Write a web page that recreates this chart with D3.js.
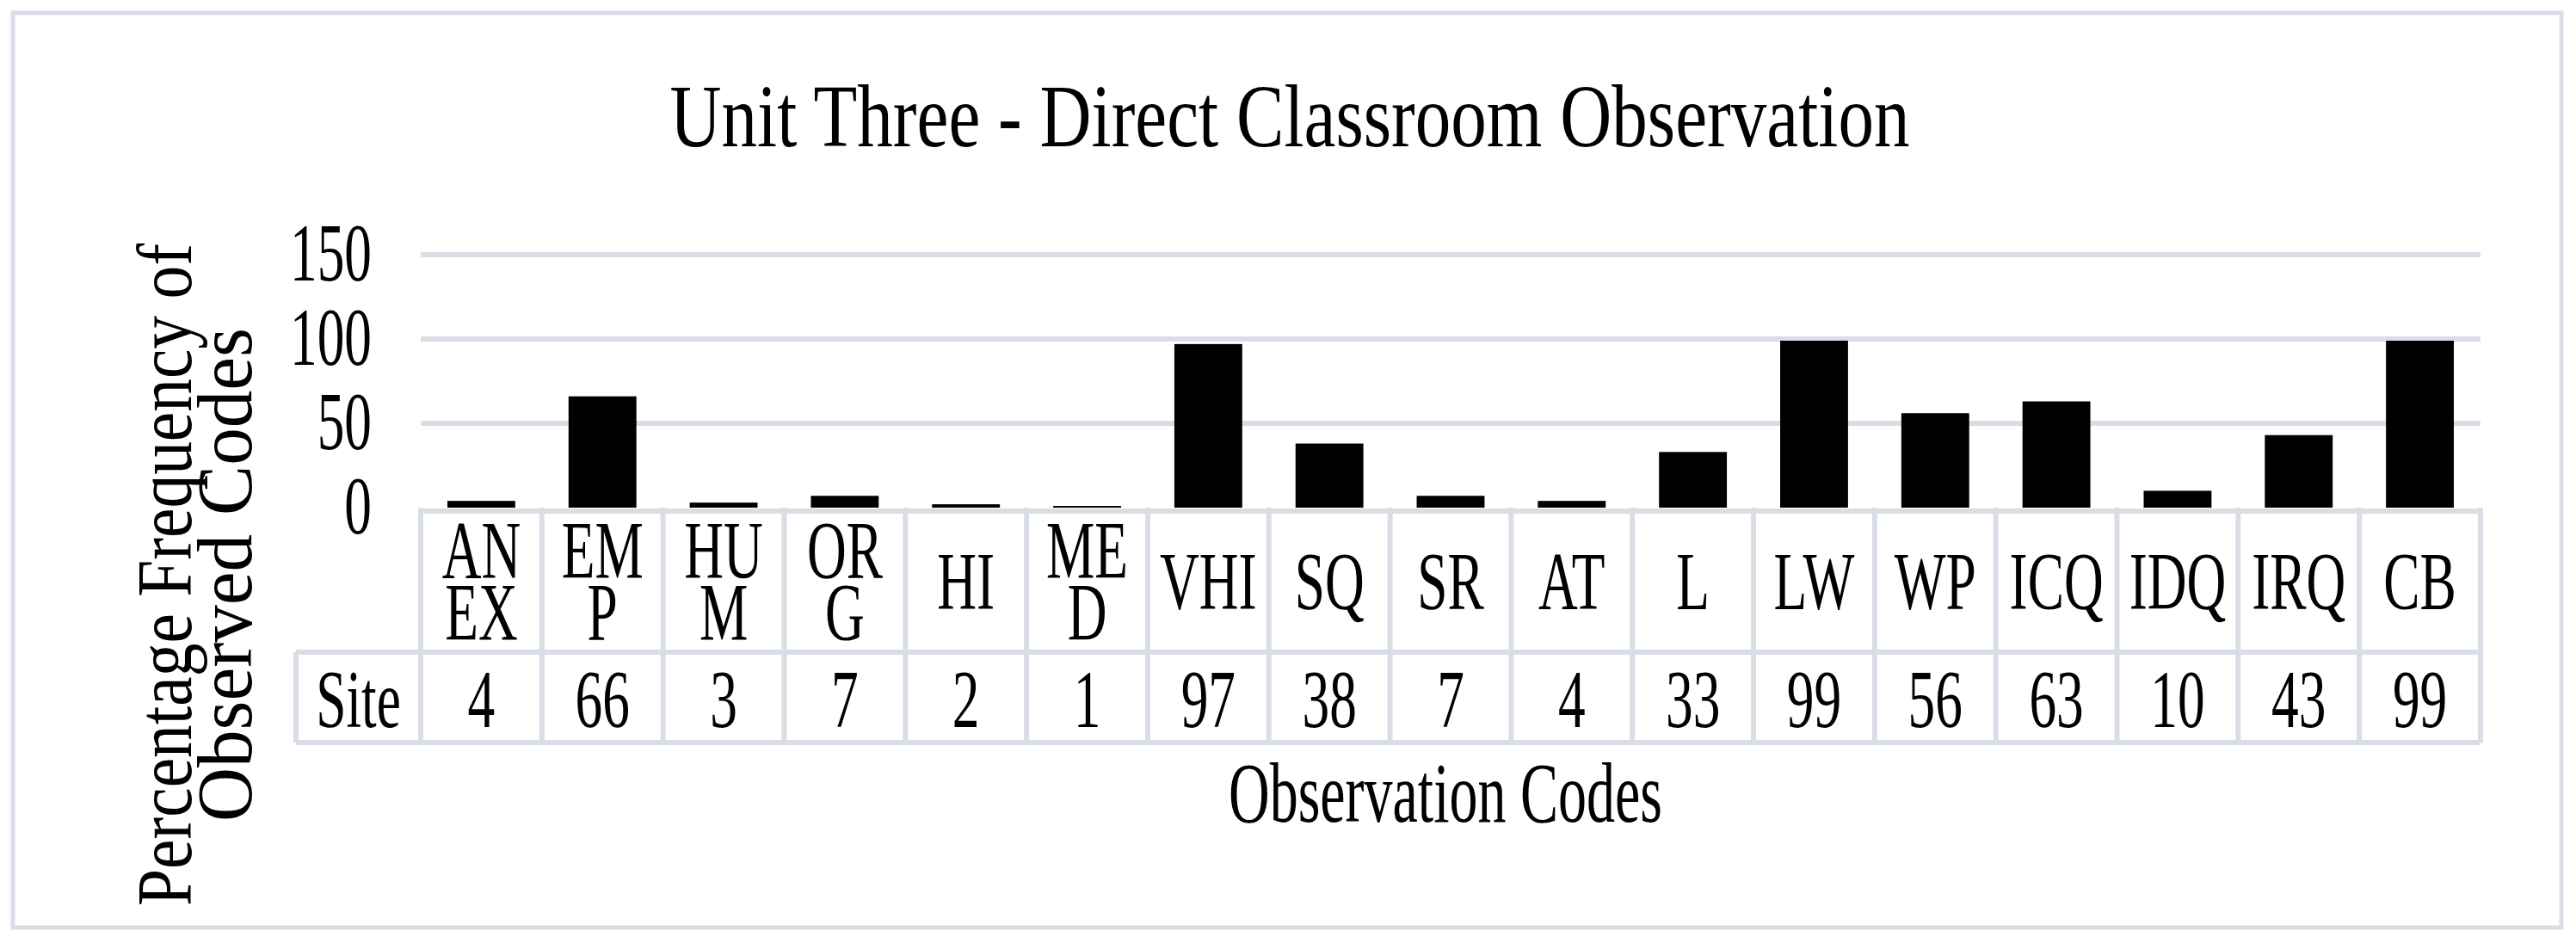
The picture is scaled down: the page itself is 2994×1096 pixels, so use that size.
<!DOCTYPE html>
<html><head><meta charset="utf-8">
<script src="https://cdn.jsdelivr.net/npm/d3@7"></script>
<style>body{margin:0;background:#fff}text{font-family:"Liberation Serif","Times New Roman",serif;fill:#000}</style>
</head><body><svg id="chart" width="2994" height="1096"></svg>
<script>
// data
const codes = ["ANEX","EMP","HUM","ORG","HI","MED","VHI","SQ","SR","AT","L","LW","WP","ICQ","IDQ","IRQ","CB"]
const codeLines = [["AN","EX"],["EM","P"],["HU","M"],["OR","G"],["HI"],["ME","D"],["VHI"],["SQ"],["SR"],["AT"],["L"],["LW"],["WP"],["ICQ"],["IDQ"],["IRQ"],["CB"]]
const siteValues = [4,66,3,7,2,1,97,38,7,4,33,99,56,63,10,43,99]
const yTicks = [0,50,100,150]

const svg = d3.select('#chart')
const grid = "#d9dee6"
const sx = 0.66 // text in the picture is squeezed sideways

// outer frame
svg.append('rect').attr('x',15).attr('y',15).attr('width',2962).attr('height',1063)
  .attr('fill','none').attr('stroke',grid).attr('stroke-width',5)

const plotLeft = 489, plotRight = 2883, plotTop = 296, zero = 590
const x = d3.scaleBand().domain(codes).range([plotLeft,plotRight])
const y = d3.scaleLinear().domain([0,150]).range([zero,plotTop])

function label(g, tx, ty, str, size, anchor) {
  return g.append('text').attr('transform','translate('+tx+','+ty+') scale('+sx+',1)')
    .attr('text-anchor',anchor||'middle').attr('font-size',size).text(str)
}

// gridlines
svg.selectAll('line.grid').data(yTicks.filter(d => d > 0)).enter().append('line')
  .attr('x1',plotLeft).attr('x2',plotRight).attr('y1',d => y(d)).attr('y2',d => y(d))
  .attr('stroke',grid).attr('stroke-width',6)
yTicks.forEach(t => label(svg, 432, y(t)+30, t, 96, 'end'))

// bars
svg.selectAll('rect.bar').data(siteValues).enter().append('rect')
  .attr('x',(d,i) => x(codes[i]) + x.bandwidth()*0.22)
  .attr('width',x.bandwidth()*0.56)
  .attr('y',d => y(d)).attr('height',d => zero - y(d)).attr('fill','#000')

// data table
const rowTop = zero, rowMid = 758, rowBot = 863, siteLeft = 344
const t = svg.append('g').attr('stroke',grid).attr('stroke-width',6)
t.append('line').attr('x1',plotLeft).attr('x2',plotRight).attr('y1',rowTop+4).attr('y2',rowTop+4)
t.append('line').attr('x1',siteLeft).attr('x2',plotRight).attr('y1',rowMid).attr('y2',rowMid)
t.append('line').attr('x1',siteLeft).attr('x2',plotRight).attr('y1',rowBot).attr('y2',rowBot)
t.append('line').attr('x1',siteLeft).attr('x2',siteLeft).attr('y1',rowMid).attr('y2',rowBot)
codes.concat(['end']).forEach((c,i) => {
  const xx = i < codes.length ? x(c) : plotRight
  t.append('line').attr('x1',xx).attr('x2',xx).attr('y1',rowTop).attr('y2',rowBot)
})
codes.forEach((c,i) => {
  const cx = x(c) + x.bandwidth()/2
  const lines = codeLines[i]
  if (lines.length === 2) {
    label(svg, cx, 672, lines[0], 96)
    label(svg, cx, 744, lines[1], 96)
  } else {
    label(svg, cx, 708, lines[0], 96)
  }
  label(svg, cx, 845, siteValues[i], 96)
})
label(svg, (siteLeft+plotLeft)/2, 845, 'Site', 96)

// titles
svg.append('text').attr('x',1499).attr('y',170).attr('text-anchor','middle')
  .attr('font-size',104).attr('textLength',1441).attr('lengthAdjust','spacingAndGlyphs')
  .text('Unit Three - Direct Classroom Observation')
label(svg, 1680, 955, 'Observation Codes', 100)
const yt = svg.append('g').attr('transform','translate(0,668) rotate(-90)')
yt.append('text').attr('x',0).attr('y',222).attr('text-anchor','middle').attr('font-size',92)
  .attr('textLength',770).attr('lengthAdjust','spacingAndGlyphs').text('Percentage Frequency of')
yt.append('text').attr('x',0).attr('y',292).attr('text-anchor','middle').attr('font-size',92)
  .attr('textLength',574).attr('lengthAdjust','spacingAndGlyphs').text('Observed Codes')
</script></body></html>
